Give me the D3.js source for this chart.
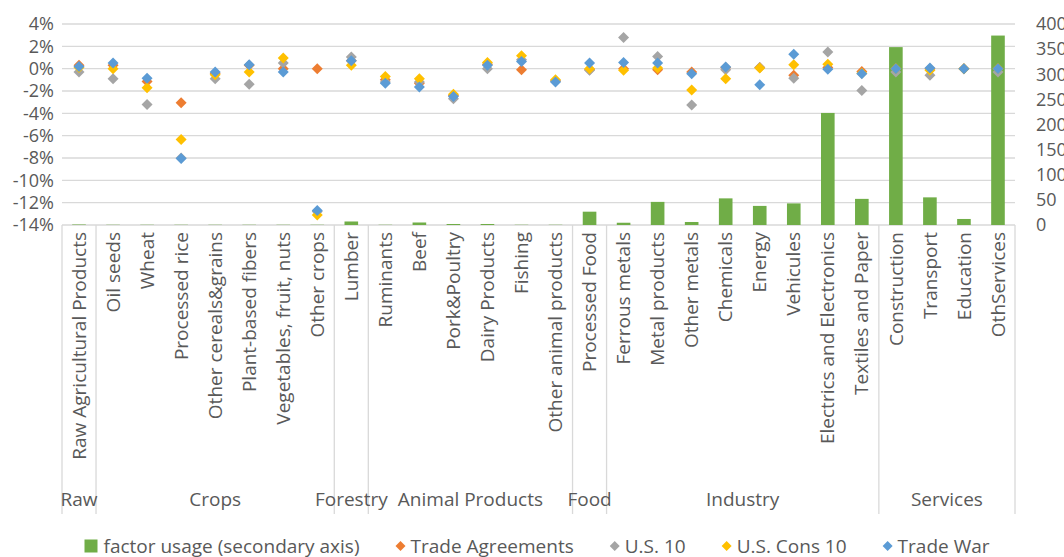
<!DOCTYPE html>
<html>
<head>
<meta charset="utf-8">
<script src="https://cdn.jsdelivr.net/npm/d3@7"></script>
<style>
  body { margin: 0; background: #fff; }
  svg text { font-family: "Open Sans", "DejaVu Sans", sans-serif; fill: #595959; }
</style>
</head>
<body>
<div id="chart"></div>
<script>
// ---- data ----
var categories = ["Raw Agricultural Products", "Oil seeds", "Wheat", "Processed rice", "Other cereals&grains",
  "Plant-based fibers", "Vegetables, fruit, nuts", "Other crops", "Lumber", "Ruminants", "Beef", "Pork&Poultry",
  "Dairy Products", "Fishing", "Other animal products", "Processed Food", "Ferrous metals", "Metal products",
  "Other metals", "Chemicals", "Energy", "Vehicules", "Electrics and Electronics", "Textiles and Paper",
  "Construction", "Transport", "Education", "OthServices"];
var groupNames = ["Raw", "Crops", "Forestry", "Animal Products", "Food", "Industry", "Services"];
var groupSizes = [1, 7, 1, 6, 1, 8, 4];

var factorUsage = [1, 0.5, 0.5, 0.5, 0.5, 0.5, 0.5, 0.5, 7, 0.5, 5, 2, 2, 0.5, 0.5, 26.5, 4.5, 46, 6, 53, 38, 43, 223, 52, 354, 55, 12, 377];
var tradeAgreements = [0.3, 0.3, -1.15, -3.05, -0.4, 0.3, 0.0, 0.0, 0.7, -1.0, -1.3, -2.4, 0.4, -0.1, -1.1, -0.1, 0.0, -0.1, -0.3, 0.1, 0.1, -0.6, 0.1, -0.25, 0.0, 0.0, 0.0, 0.0];
var us10 = [-0.3, -0.9, -3.2, -8.0, -0.9, -1.4, 0.5, -12.8, 1.05, -1.2, -1.2, -2.7, 0.0, 0.8, -1.1, -0.15, 2.8, 1.1, -3.25, -0.1, 0.1, -0.85, 1.5, -1.95, -0.3, -0.6, 0.0, -0.3];
var usCons10 = [0.1, 0.0, -1.7, -6.35, -0.55, -0.3, 0.95, -13.1, 0.3, -0.7, -0.9, -2.3, 0.55, 1.15, -1.0, 0.0, -0.15, 0.05, -1.9, -0.9, 0.05, 0.35, 0.4, -0.4, 0.0, -0.15, 0.0, 0.0];
var tradeWar = [0.2, 0.5, -0.85, -8.05, -0.3, 0.35, -0.3, -12.7, 0.7, -1.3, -1.65, -2.5, 0.3, 0.65, -1.2, 0.5, 0.55, 0.5, -0.45, 0.15, -1.45, 1.3, -0.05, -0.45, 0.0, 0.05, 0.0, 0.0];

var pctTicks = [4, 2, 0, -2, -4, -6, -8, -10, -12, -14];
var usageTicks = [0, 50, 100, 150, 200, 250, 300, 350, 400];

var config = {
  width: 1064, height: 557,
  left: 62, right: 1015, top: 24, bottom: 225,
  labelBottom: 514, groupLabelY: 499, legendY: 546,
  gridColor: "#d9d9d9", fontSize: 19, tickFontSize: 18
};

var series = [
  { name: "Trade Agreements", values: tradeAgreements, color: "#ED7D31" },
  { name: "U.S. 10", values: us10, color: "#A5A5A5" },
  { name: "U.S. Cons 10", values: usCons10, color: "#FFC000" },
  { name: "Trade War", values: tradeWar, color: "#5B9BD5" }
];
var barColor = "#70AD47";

var svg = d3.select("#chart").append("svg")
  .attr("width", config.width)
  .attr("height", config.height);

var x = d3.scaleBand().domain(d3.range(categories.length))
  .range([config.left, config.right]).paddingInner(0).paddingOuter(0);
var yPct = d3.scaleLinear().domain([-14, 4]).range([config.bottom, config.top]);
var yUse = d3.scaleLinear().domain([0, 400]).range([config.bottom, config.top]);
var barW = x.bandwidth() / 2.5;   // excel gap width 150%

// gridlines (left axis)
svg.append("g").selectAll("line")
  .data(pctTicks)
  .enter().append("line")
  .attr("x1", config.left).attr("x2", config.right)
  .attr("y1", function(d) { return yPct(d); })
  .attr("y2", function(d) { return yPct(d); })
  .attr("stroke", config.gridColor).attr("stroke-width", 1.3);

// left axis labels
svg.append("g").selectAll("text")
  .data(pctTicks)
  .enter().append("text")
  .attr("x", 54)
  .attr("y", function(d) { return yPct(d); })
  .attr("dy", "0.35em")
  .attr("text-anchor", "end")
  .attr("font-size", config.tickFontSize)
  .text(function(d) { return d + "%"; });

// right axis labels (the reference clips them at the page edge too)
svg.append("g").selectAll("text")
  .data(usageTicks)
  .enter().append("text")
  .attr("x", 1036)
  .attr("y", function(d) { return yUse(d); })
  .attr("dy", "0.35em")
  .attr("text-anchor", "start")
  .attr("font-size", config.tickFontSize)
  .text(function(d) { return d; });

// bars (secondary axis)
svg.append("g").selectAll("rect")
  .data(factorUsage)
  .enter().append("rect")
  .attr("x", function(d, i) { return x(i) + (x.bandwidth() - barW) / 2; })
  .attr("width", barW)
  .attr("y", function(d) { return yUse(d); })
  .attr("height", function(d) { return yUse(0) - yUse(d); })
  .attr("fill", barColor);

// category axis: boundaries of groups
var bounds = [0];
groupSizes.forEach(function(n, i) { bounds.push(bounds[i] + n); });
svg.append("g").selectAll("line")
  .data(bounds)
  .enter().append("line")
  .attr("x1", function(d) { return config.left + d * x.step(); })
  .attr("x2", function(d) { return config.left + d * x.step(); })
  .attr("y1", config.bottom).attr("y2", config.labelBottom)
  .attr("stroke", config.gridColor).attr("stroke-width", 1.3);

// category labels (rotated)
svg.append("g").selectAll("text")
  .data(categories)
  .enter().append("text")
  .attr("transform", function(d, i) { return "translate(" + (x(i) + x.bandwidth() / 2) + "," + (config.bottom + 7) + ") rotate(-90)"; })
  .attr("text-anchor", "end")
  .attr("dy", "0.35em")
  .attr("font-size", config.fontSize)
  .text(function(d) { return d; });

// group labels
svg.append("g").selectAll("text")
  .data(groupNames)
  .enter().append("text")
  .attr("x", function(d, i) { return config.left + (bounds[i] + bounds[i + 1]) / 2 * x.step(); })
  .attr("y", config.groupLabelY)
  .attr("dy", "0.35em")
  .attr("text-anchor", "middle")
  .attr("font-size", config.fontSize)
  .text(function(d) { return d; });

// diamond markers
var diamond = "M0,-5.5L5.5,0L0,5.5L-5.5,0Z";
series.forEach(function(s) {
  svg.append("g").selectAll("path")
    .data(s.values)
    .enter().append("path")
    .attr("d", diamond)
    .attr("transform", function(d, i) { return "translate(" + (x(i) + x.bandwidth() / 2) + "," + yPct(d) + ")"; })
    .attr("fill", s.color);
});

// legend
var legendItems = [{ name: "factor usage (secondary axis)", color: barColor, bar: true }].concat(series);
var legend = svg.append("g");
var cursor = 0;
legendItems.forEach(function(item) {
  var g = legend.append("g").attr("transform", "translate(" + cursor + ",0)");
  if (item.bar) {
    g.append("rect").attr("x", 0).attr("y", -6.5).attr("width", 13).attr("height", 13).attr("fill", item.color);
  } else {
    g.append("path").attr("d", "M0,-5L5,0L0,5L-5,0Z").attr("transform", "translate(5,0)").attr("fill", item.color);
  }
  var t = g.append("text")
    .attr("x", item.bar ? 19 : 15)
    .attr("dy", "0.35em")
    .attr("font-size", config.fontSize)
    .text(item.name);
  cursor += (item.bar ? 19 : 15) + t.node().getComputedTextLength() + 36;
});
var legendW = cursor - 36;
legend.attr("transform", "translate(" + (537 - legendW / 2) + "," + config.legendY + ")");
</script>
</body>
</html>
